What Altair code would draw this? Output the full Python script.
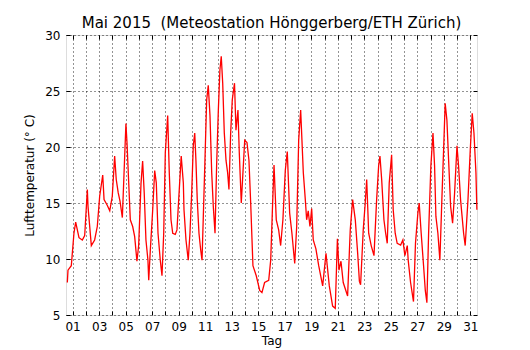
import altair as alt
import pandas as pd

# Day of May (tick "01" = May 1, noon) and air temperature in °C
tag = [0.60, 0.65, 0.90, 1.10, 1.23, 1.48, 1.73, 1.91, 2.11, 2.16, 2.41, 2.66, 2.86, 3.04, 3.27,
       3.37, 3.61, 3.80, 3.99, 4.17, 4.29, 4.44, 4.57, 4.75, 4.85, 5.02, 5.10, 5.23, 5.35, 5.53,
       5.68, 5.85, 5.98, 6.16, 6.28, 6.40, 6.53, 6.68, 6.74, 6.86, 7.04, 7.19, 7.31, 7.44, 7.61,
       7.74, 7.87, 7.99, 8.17, 8.29, 8.42, 8.55, 8.74, 8.87, 9.00, 9.19, 9.35, 9.40, 9.55, 9.72,
       9.85, 9.98, 10.10, 10.21, 10.30, 10.40, 10.53, 10.66, 10.76, 10.85, 10.98, 11.11, 11.23,
       11.36, 11.49, 11.61, 11.74, 11.86, 11.99, 12.11, 12.21, 12.32, 12.44, 12.57, 12.69, 12.79,
       12.92, 13.04, 13.21, 13.32, 13.47, 13.57, 13.72, 13.98, 14.15, 14.30, 14.43, 14.60, 14.85,
       15.11, 15.28, 15.48, 15.79, 15.94, 16.06, 16.19, 16.36, 16.54, 16.69, 16.86, 17.04, 17.19,
       17.37, 17.54, 17.75, 17.90, 18.05, 18.20, 18.40, 18.55, 18.65, 18.77, 18.90, 19.03, 19.15,
       19.35, 19.56, 19.86, 20.11, 20.36, 20.61, 20.81, 20.97, 21.09, 21.24, 21.41, 21.74, 21.94,
       22.12, 22.32, 22.50, 22.63, 22.72, 22.92, 23.07, 23.18, 23.33, 23.52, 23.73, 23.93, 24.08,
       24.18, 24.31, 24.48, 24.61, 24.73, 24.88, 25.06, 25.18, 25.33, 25.48, 25.74, 25.91, 26.06,
       26.24, 26.31, 26.49, 26.71, 26.86, 27.04, 27.14, 27.29, 27.47, 27.60, 27.72, 27.85, 28.02,
       28.18, 28.30, 28.40, 28.55, 28.70, 28.85, 28.98, 29.10, 29.23, 29.36, 29.51, 29.66, 29.81,
       29.99, 30.11, 30.26, 30.49, 30.61, 30.82, 30.99, 31.14, 31.27, 31.42, 31.49]

temp = [7.9, 9.0, 9.4, 12.3, 13.3, 11.9, 11.7, 12.1, 16.2, 14.7, 11.2, 11.7, 12.9, 15.6, 17.5,
        15.3, 14.8, 14.3, 15.6, 19.2, 17.1, 15.9, 15.2, 13.7, 16.8, 22.1, 20.4, 16.8, 13.5, 12.9,
        12.0, 9.8, 11.2, 16.8, 18.75, 15.9, 11.7, 9.9, 8.1, 10.8, 14.4, 17.9, 16.8, 12.3, 9.9,
        8.5, 12.3, 19.5, 22.8, 17.7, 13.5, 12.3, 12.2, 12.6, 15.3, 19.2, 16.8, 14.4, 11.7, 9.9,
        12.3, 15.9, 20.1, 21.25, 18.8, 15.3, 12.3, 10.8, 9.9, 13.5, 18.8, 24.2, 25.5,
        22.8, 17.7, 14.7, 12.3, 18.3, 23.3, 26.9, 28.1, 25.7, 21.25, 18.8, 17.7, 16.2,
        21.25, 24.2, 25.7, 21.5, 23.3, 19.5, 15.0, 20.6, 20.4, 18.8, 15.0, 9.4, 8.5,
        7.2, 7.0, 7.9, 8.1, 9.9, 14.1, 18.4, 13.5, 12.6, 11.2, 13.5, 17.9, 19.6,
        14.1, 12.3, 9.6, 12.9, 20.6, 23.3, 17.7, 15.3, 13.5, 14.3, 12.9, 14.5, 11.7,
        10.9, 9.4, 7.6, 10.5, 7.6, 5.8, 5.6, 11.8, 9.0, 9.8, 7.9, 6.7, 12.6,
        15.3, 13.5, 10.5, 8.0, 7.7, 12.6, 15.0, 17.1, 12.3, 11.2, 10.3, 15.3, 18.3,
        19.2, 17.1, 13.5, 12.3, 11.4, 16.8, 19.3, 14.4, 12.3, 11.4, 11.25, 11.7, 10.3,
        11.2, 9.9, 7.9, 6.2, 11.4, 14.1, 15.0, 12.3, 9.4, 7.2, 6.1, 12.3, 18.3,
        21.25, 18.3, 13.8, 12.3, 9.9, 15.3, 19.7, 23.9, 22.4, 18.8, 14.7, 13.2, 15.9,
        20.1, 18.3, 15.3, 12.3, 11.2, 15.3, 19.7, 23.0, 21.25, 17.7, 14.4]

day_ticks = list(range(1, 32))
temp_ticks = [5, 10, 15, 20, 25, 30]

df = pd.DataFrame({"Tag": tag, "T": temp})

W, H = 411, 280
FONT = "DejaVu Sans"

xs = alt.Scale(domain=[0.5, 31.5], nice=False, zero=False)
ys = alt.Scale(domain=[5, 30], nice=False, zero=False)

label_expr = ("datum.value % 2 == 1 ? (datum.value < 10 ? '0' + datum.value : '' + datum.value) : ''")

main = alt.Chart(df).mark_line(color="#ff0000", strokeWidth=1.3).encode(
    x=alt.X("Tag:Q", scale=xs, title="Tag",
            axis=alt.Axis(values=day_ticks, labelExpr=label_expr, tickSize=0, domain=False,
                          grid=True, gridColor="black", gridDash=[1, 3], gridOpacity=0.85,
                          labelPadding=6, labelFontSize=12, titleFontSize=12,
                          titleFontWeight="normal", titlePadding=3, labelColor="black",
                          titleColor="black", labelFont=FONT, titleFont=FONT)),
    y=alt.Y("T:Q", scale=ys, title="Lufttemperatur (° C)",
            axis=alt.Axis(values=temp_ticks, tickSize=0, domain=False, grid=True,
                          gridColor="black", gridDash=[1, 3], gridOpacity=0.85,
                          labelPadding=6, labelFontSize=12, titleFontSize=12,
                          titleFontWeight="normal", titlePadding=8, labelColor="black",
                          titleColor="black", labelFont=FONT, titleFont=FONT)),
)

def tick_layer(xorient, yorient):
    return alt.Chart(df).mark_line(opacity=0).encode(
        x=alt.X("Tag:Q", scale=xs, title=None,
                axis=alt.Axis(orient=xorient, offset=-H, values=day_ticks, labels=False,
                              domain=False, grid=False, tickSize=4, tickColor="black",
                              tickWidth=1)),
        y=alt.Y("T:Q", scale=ys, title=None,
                axis=alt.Axis(orient=yorient, offset=-W, values=temp_ticks, labels=False,
                              domain=False, grid=False, tickSize=4, tickColor="black",
                              tickWidth=1)),
    )

chart = alt.layer(
    main,
    tick_layer("top", "right"),
    tick_layer("bottom", "left"),
).resolve_axis(x="independent", y="independent").properties(
    width=W, height=H,
    title=alt.TitleParams("Mai 2015\u00a0\u00a0(Meteostation Hönggerberg/ETH Zürich)", fontSize=15,
                          font=FONT, fontWeight="normal", color="black", anchor="middle",
                          offset=-2),
    autosize=alt.AutoSizeParams(type="none"),
    padding={"left": 58, "top": 27, "right": 45, "bottom": 27 + 8},
).configure_view(stroke="black", strokeWidth=1.2).configure(font=FONT, background="white")

chart.save("out.html", embed_options={"renderer": "svg", "actions": False})
